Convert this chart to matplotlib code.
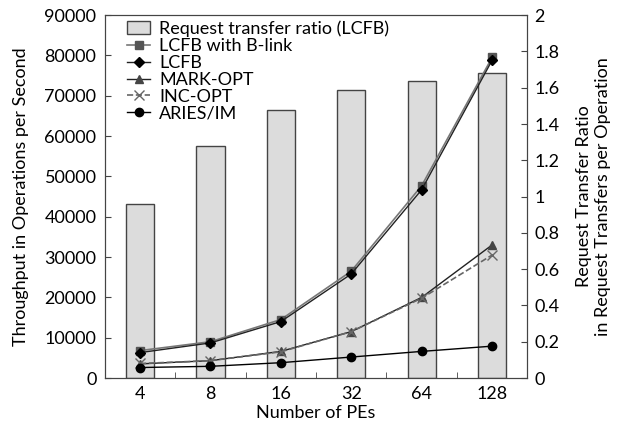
import numpy as np
import matplotlib
matplotlib.use("Agg")
import matplotlib.pyplot as plt

plt.rcParams['font.family'] = ['Lato', 'DejaVu Sans']

pes = ['4', '8', '16', '32', '64', '128']
ratio = [0.96, 1.28, 1.475, 1.588, 1.636, 1.679]

blink = [6800, 9000, 14500, 26500, 47700, 79500]
lcfb = [6300, 8700, 14000, 25800, 46700, 78800]
mark_opt = [3500, 4300, 6600, 11500, 20000, 33000]
inc_opt = [3600, 4300, 6500, 11500, 19800, 30500]
aries = [2600, 2900, 3800, 5200, 6600, 7900]

x = np.arange(len(pes))
fs = 13

fig, ax = plt.subplots(figsize=(6.24, 4.33), dpi=100)
fig.subplots_adjust(left=0.168, right=0.845, top=0.965, bottom=0.127)
ax2 = ax.twinx()

# bars on right axis, drawn below the lines
ax2.set_zorder(1)
ax.set_zorder(2)
ax.patch.set_visible(False)

bars = ax2.bar(x, ratio, width=0.4, color='#dcdcdc', edgecolor='#444444',
               linewidth=1.0, label='Request transfer ratio (LCFB)')

ax.plot(x, blink, color='#777777', lw=1.2, marker='s', ms=6,
        mfc='#555555', mec='#555555', label='LCFB with B-link')
ax.plot(x, lcfb, color='#222222', lw=1.0, marker='D', ms=5,
        mfc='black', mec='black', label='LCFB')
ax.plot(x, mark_opt, color='#222222', lw=1.0, marker='^', ms=6,
        mfc='#444444', mec='#444444', label='MARK-OPT')
ax.plot(x, inc_opt, color='#666666', lw=1.2, ls='--', marker='x', ms=7,
        mec='#666666', label='INC-OPT')
ax.plot(x, aries, color='black', lw=1.0, marker='o', ms=6,
        mfc='black', mec='black', label='ARIES/IM')

ax.set_xlim(-0.5, len(pes) - 0.5)
ax.set_ylim(0, 90000)
ax.set_yticks(np.arange(0, 90001, 10000))
ax2.set_ylim(0, 2)
ax2.set_yticks(np.arange(0, 2.01, 0.2))
ax2.set_yticklabels(['0', '0.2', '0.4', '0.6', '0.8', '1', '1.2', '1.4', '1.6', '1.8', '2'])

ax.set_xticks(x)
ax.set_xticklabels(pes)
ax.set_xticks(x[:-1] + 0.5, minor=True)
ax.tick_params(axis='x', which='major', length=0, labelsize=fs, pad=6)
ax.tick_params(axis='x', which='minor', direction='in', length=4, color='#444444')
ax.tick_params(axis='y', direction='in', length=4, color='#444444', labelsize=fs, pad=6)
ax2.tick_params(axis='y', direction='in', length=4, color='#444444', labelsize=fs, pad=5)

for a in (ax, ax2):
    for s in a.spines.values():
        s.set_color('#444444')

ax.set_xlabel('Number of PEs', fontsize=fs, labelpad=2)
ax.set_ylabel('Throughput in Operations per Second', fontsize=fs, labelpad=11)
ax2.set_ylabel('Request Transfer Ratio\nin Request Transfers per Operation',
               fontsize=fs, labelpad=12)

h1, l1 = ax2.get_legend_handles_labels()
h2, l2 = ax.get_legend_handles_labels()
ax.legend(h1 + h2, l1 + l2, loc='upper left', frameon=False, fontsize=fs,
          handlelength=1.3, handletextpad=0.5, labelspacing=0.05,
          borderaxespad=0.0, bbox_to_anchor=(0.035, 1.005))

fig.savefig('out.png', dpi=100)
